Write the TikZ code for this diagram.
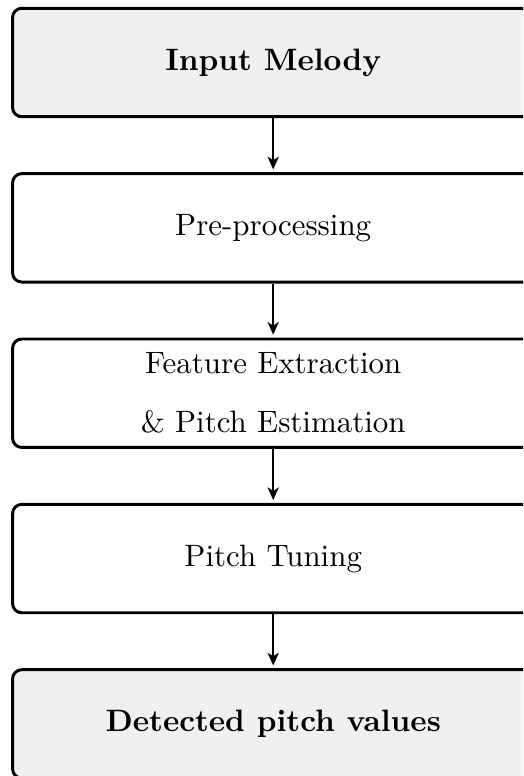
\documentclass[tikz,border=0pt]{standalone}
\usepackage{fontspec}
\setmainfont{lmroman10-regular.otf}[BoldFont=lmroman10-bold.otf]
\usepackage{tikz}
\usetikzlibrary{positioning,arrows.meta}
\definecolor{lightgrey}{RGB}{240,240,240}

\begin{document}
\begin{tikzpicture}[
  stage/.style={draw=black,line width=2.1pt,rounded corners=6.5pt,
    minimum width=13.03cm,minimum height=2.71cm,align=center,
    font=\fontsize{22}{42}\selectfont},
  endstage/.style={stage,fill=lightgrey},
  flow/.style={line width=1.4pt,-{Stealth[length=9pt,width=8pt,inset=2.5pt]},shorten >=2pt},
  node distance=1.35cm]
\path[use as bounding box] (0,0) rectangle (13.075,-19.4);
\clip (0,0) rectangle (13.075,-19.4);
\node[endstage] (input) at (6.83,-1.5625) {\textbf{Input Melody}};
\node[stage,below=of input] (prep) {Pre-processing};
\node[stage,below=of prep] (feat) {Feature Extraction\\ \& Pitch Estimation};
\node[stage,below=of feat] (tune) {Pitch Tuning};
\node[endstage,below=of tune] (detect) {\textbf{Detected pitch values}};
\draw[flow] (input) -- (prep);
\draw[flow] (prep) -- (feat);
\draw[flow] (feat) -- (tune);
\draw[flow] (tune) -- (detect);
\end{tikzpicture}
\end{document}
